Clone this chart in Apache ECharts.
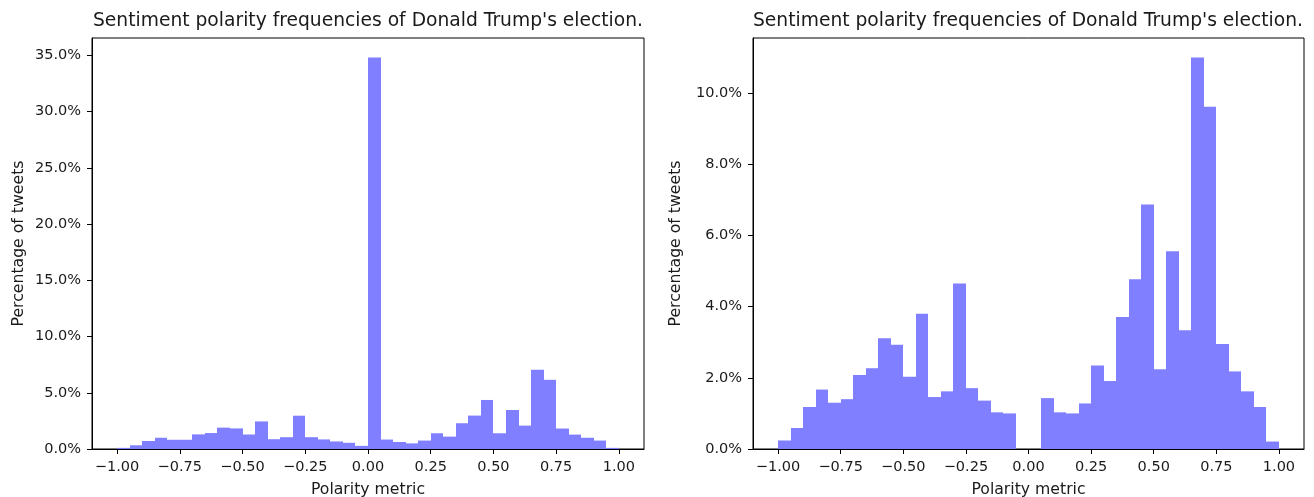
<!DOCTYPE html>
<html>
<head>
<meta charset="utf-8">
<title>Sentiment polarity frequencies</title>
<script src="https://cdn.jsdelivr.net/npm/echarts@6/dist/echarts.min.js"></script>
<style>
  html, body { margin: 0; padding: 0; background: #fff; }
  #chart { width: 1314px; height: 497px; }
</style>
</head>
<body>
<div id="chart"></div>
<script>
// Histogram bin edges (polarity metric, 40 bins of width 0.05)
var binEdges = [
  -1.00, -0.95, -0.90, -0.85, -0.80, -0.75, -0.70, -0.65, -0.60, -0.55,
  -0.50, -0.45, -0.40, -0.35, -0.30, -0.25, -0.20, -0.15, -0.10, -0.05,
   0.00,  0.05,  0.10,  0.15,  0.20,  0.25,  0.30,  0.35,  0.40,  0.45,
   0.50,  0.55,  0.60,  0.65,  0.70,  0.75,  0.80,  0.85,  0.90,  0.95,
   1.00
];

// Percentage of tweets per bin, all tweets (neutral included)
var allTweetsPct = [
  0.10, 0.33, 0.71, 1.00, 0.82, 0.82, 1.30, 1.42, 1.90, 1.83,
  1.29, 2.45, 0.87, 1.05, 2.96, 1.05, 0.85, 0.67, 0.55, 0.28,
  34.80, 0.84, 0.62, 0.50, 0.75, 1.40, 1.10, 2.29, 2.97, 4.36,
  1.40, 3.47, 2.08, 7.04, 6.15, 1.82, 1.28, 1.00, 0.75, 0.10
];

// Percentage of tweets per bin, polar tweets only
var polarTweetsPct = [
  0.24, 0.59, 1.18, 1.67, 1.30, 1.40, 2.08, 2.27, 3.11, 2.93,
  2.03, 3.80, 1.46, 1.62, 4.65, 1.71, 1.36, 1.03, 1.00, 0.00,
  0.00, 1.43, 1.03, 1.00, 1.28, 2.35, 1.91, 3.71, 4.77, 6.87,
  2.24, 5.56, 3.34, 11.00, 9.62, 2.95, 2.18, 1.62, 1.18, 0.21
];

var xTickValues = [-1.00, -0.75, -0.50, -0.25, 0.00, 0.25, 0.50, 0.75, 1.00];
var leftYTicks = [0, 5, 10, 15, 20, 25, 30, 35];
var rightYTicks = [0, 2, 4, 6, 8, 10];

var titleText = "Sentiment polarity frequencies of Donald Trump's election.";
var xName = 'Polarity metric';
var yName = 'Percentage of tweets';

var FONT = 'DejaVu Sans';
var TEXT = '#1a1a1a';
var BAR = '#7f7fff';
var TICK_SIZE = 14.5;
var NAME_SIZE = 15.7;
var TITLE_SIZE = 18.7;

function histData(values) {
  var out = [];
  for (var i = 0; i < values.length; i++) {
    out.push([binEdges[i], binEdges[i + 1], values[i]]);
  }
  return out;
}

// One rectangle per bin; edges snapped to whole pixels so neighbours meet without seams
function renderBin(params, api) {
  var lo = api.coord([api.value(0), 0]);
  var hi = api.coord([api.value(1), api.value(2)]);
  var x0 = Math.round(lo[0]), x1 = Math.round(hi[0]);
  return {
    type: 'rect',
    shape: { x: x0, y: hi[1], width: x1 - x0, height: lo[1] - hi[1] },
    style: { fill: BAR }
  };
}

function xAxis(gridIndex) {
  return {
    type: 'value', gridIndex: gridIndex, min: -1.1, max: 1.1,
    name: xName, nameLocation: 'middle', nameGap: 33,
    nameTextStyle: { fontFamily: FONT, fontSize: NAME_SIZE, color: TEXT },
    splitLine: { show: false },
    axisLine: { show: true, onZero: false, lineStyle: { color: '#000', width: 1 } },
    axisTick: { show: true, length: 5, customValues: xTickValues, lineStyle: { color: '#000' } },
    axisLabel: {
      customValues: xTickValues, margin: 11,
      fontFamily: FONT, fontSize: TICK_SIZE, color: TEXT,
      formatter: function (v) { return (v < 0 ? '\u2212' : '') + Math.abs(v).toFixed(2); }
    }
  };
}

function yAxis(gridIndex, max, ticks, gap) {
  return {
    type: 'value', gridIndex: gridIndex, min: 0, max: max,
    name: yName, nameLocation: 'middle', nameGap: gap,
    nameTextStyle: { fontFamily: FONT, fontSize: NAME_SIZE, color: TEXT },
    splitLine: { show: false },
    axisLine: { show: true, onZero: false, lineStyle: { color: '#000', width: 1 } },
    axisTick: { show: true, length: 5, customValues: ticks, lineStyle: { color: '#000' } },
    axisLabel: {
      customValues: ticks, margin: 11,
      fontFamily: FONT, fontSize: TICK_SIZE, color: TEXT,
      formatter: function (v) { return v.toFixed(1) + '%'; }
    }
  };
}

var chart = echarts.init(document.getElementById('chart'), null, { renderer: 'canvas' });

chart.setOption({
  animation: false,
  backgroundColor: '#fff',
  title: [
    { text: titleText, left: 368, top: 12, padding: 0, textAlign: 'center',
      textStyle: { fontFamily: FONT, fontSize: TITLE_SIZE, fontWeight: 'normal', color: TEXT } },
    { text: titleText, left: 1028, top: 12, padding: 0, textAlign: 'center',
      textStyle: { fontFamily: FONT, fontSize: TITLE_SIZE, fontWeight: 'normal', color: TEXT } }
  ],
  grid: [
    { left: 92, right: 670, top: 38, bottom: 48, containLabel: false, outerBoundsMode: 'none',
      show: true, borderColor: '#000', borderWidth: 1 },
    { left: 753, right: 10, top: 38, bottom: 48, containLabel: false, outerBoundsMode: 'none',
      show: true, borderColor: '#000', borderWidth: 1 }
  ],
  xAxis: [xAxis(0), xAxis(1)],
  yAxis: [yAxis(0, 36.54, leftYTicks, 65), yAxis(1, 11.55, rightYTicks, 69)],
  series: [
    { type: 'custom', xAxisIndex: 0, yAxisIndex: 0, renderItem: renderBin,
      encode: { x: [0, 1], y: 2 }, data: histData(allTweetsPct) },
    { type: 'custom', xAxisIndex: 1, yAxisIndex: 1, renderItem: renderBin,
      encode: { x: [0, 1], y: 2 }, data: histData(polarTweetsPct) }
  ]
});
</script>
</body>
</html>
